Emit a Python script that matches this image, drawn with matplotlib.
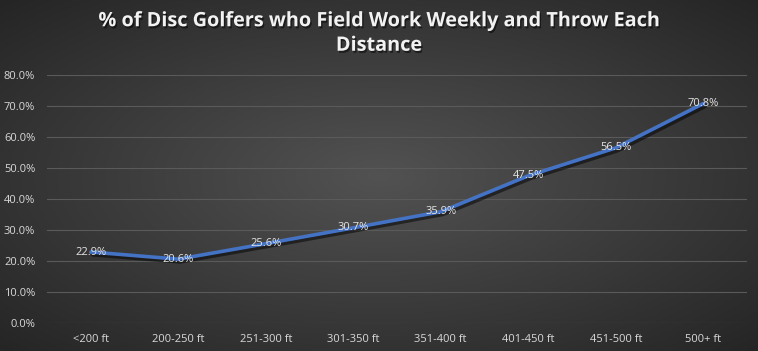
import numpy as np
import matplotlib
matplotlib.use("Agg")
import matplotlib.pyplot as plt
import matplotlib.patheffects as pe

categories = ["<200 ft", "200-250 ft", "251-300 ft", "301-350 ft", "351-400 ft",
              "401-450 ft", "451-500 ft", "500+ ft"]
values = [22.9, 20.6, 25.6, 30.7, 35.9, 47.5, 56.5, 70.8]
yticks = [0, 10, 20, 30, 40, 50, 60, 70, 80]
title = "% of Disc Golfers who Field Work Weekly and Throw Each\nDistance"

W, H = 758, 351
fig = plt.figure(figsize=(W / 100, H / 100), dpi=100)

# radial gradient background
bg = fig.add_axes([0, 0, 1, 1])
yy, xx = np.mgrid[0:H, 0:W]
r = np.sqrt(((xx - W / 2) / (W / 2)) ** 2 + ((yy - H / 2) / (H / 2)) ** 2) / np.sqrt(2)
c_in = np.array([0x52, 0x52, 0x52]) / 255
c_out = np.array([0x25, 0x25, 0x25]) / 255
img = c_in[None, None, :] * (1 - r[..., None]) + c_out[None, None, :] * r[..., None]
bg.imshow(img, extent=[0, 1, 0, 1], aspect="auto")
bg.axis("off")

ax = fig.add_axes([47 / W, 1 - 323 / H, 700 / W, (323 - 75) / H])
ax.set_facecolor("none")
x = np.arange(len(categories))
ax.plot(x, values, color="#4472c4", lw=2.6, solid_capstyle="round",
        path_effects=[pe.SimpleLineShadow(offset=(1.5, -2), shadow_color="black", alpha=0.5),
                      pe.Normal()], zorder=3)
for xi, v in zip(x, values):
    ax.text(xi, v, f"{v:.1f}%", ha="center", va="center", color="#e6e6e6",
            fontsize=8, family="Open Sans", zorder=4)

ax.set_xlim(-0.5, len(categories) - 0.5)
ax.set_ylim(0, 80)
ax.set_yticks(yticks)
ax.set_yticklabels([f"{t:.1f}%" for t in yticks])
ax.set_xticks(x)
ax.set_xticklabels(categories)
ax.tick_params(length=0, colors="#d9d9d9", labelsize=8, pad=8)
ax.tick_params(axis="y", pad=8.5)
for lab in ax.get_xticklabels() + ax.get_yticklabels():
    lab.set_family("Open Sans")
ax.grid(axis="y", color="#5a5a5a", lw=0.8)
ax.set_axisbelow(True)
for s in ax.spines.values():
    s.set_visible(False)

fig.text(0.5, 1 - 33.5 / H, title, ha="center", va="center", color="#f2f2f2",
         fontsize=14.3, fontweight="bold", family="Open Sans", linespacing=1.3,
         path_effects=[pe.withSimplePatchShadow(offset=(1, -1.5), shadow_rgbFace="black", alpha=0.5)])

fig.savefig("out.png", dpi=100)
